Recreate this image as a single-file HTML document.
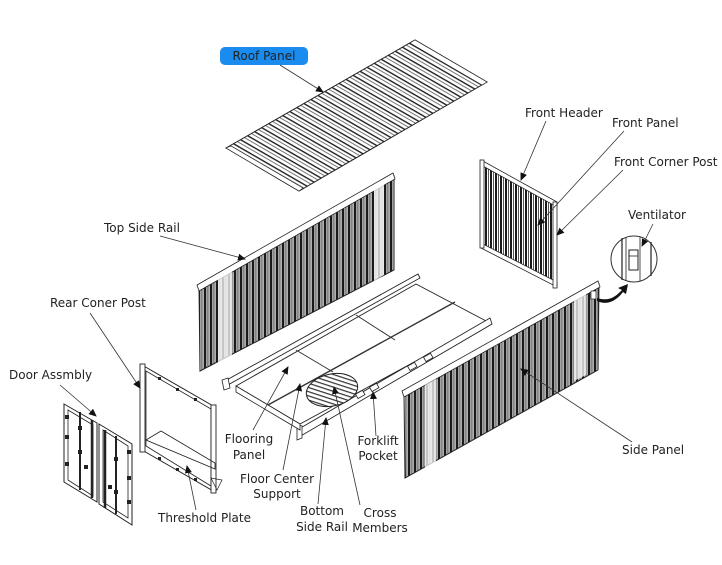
<!DOCTYPE html>
<html><head><meta charset="utf-8"><style>
html,body{margin:0;padding:0;background:#fff;}
svg{display:block;}
text{font-family:"DejaVu Sans","Liberation Sans",sans-serif;font-size:12px;fill:#222;}
</style></head><body>
<svg width="722" height="565" viewBox="0 0 722 565" xmlns="http://www.w3.org/2000/svg">
<defs>
<pattern id="rib" width="6" height="10" patternUnits="userSpaceOnUse">
<rect width="6" height="10" fill="#fff"/>
<rect x="0" width="2.4" height="10" fill="#1a1a1a"/>
<rect x="3.4" width="1.1" height="10" fill="#333"/>
<rect x="5.2" width="0.6" height="10" fill="#777"/>
</pattern>
<pattern id="rib2" width="5" height="10" patternUnits="userSpaceOnUse">
<rect width="5" height="10" fill="#fff"/>
<rect x="0" width="2" height="10" fill="#1a1a1a"/>
<rect x="3" width="0.9" height="10" fill="#444"/>
</pattern>
<pattern id="roofrib" width="10" height="7" patternUnits="userSpaceOnUse" patternTransform="rotate(30)">
<rect width="10" height="7" fill="#fff"/>
<rect y="0" width="10" height="1.4" fill="#222"/>
<rect y="3.5" width="10" height="0.8" fill="#555"/>
</pattern>
<pattern id="crossrib" width="10" height="4" patternUnits="userSpaceOnUse" patternTransform="rotate(30)">
<rect width="10" height="4" fill="#fff"/>
<rect width="10" height="1.2" fill="#333"/>
</pattern>
<marker id="ah" markerWidth="8" markerHeight="8" refX="7" refY="4" orient="auto" markerUnits="userSpaceOnUse">
<path d="M0,0.5 L8,4 L0,7.5 z" fill="#111"/>
</marker>
</defs>

<!-- Roof -->
<polygon points="226,148 299,191 487,82 415,40" fill="url(#roofrib)" stroke="#222" stroke-width="1"/>
<polygon points="226,148 299,191 303,188 231,146" fill="#fff" stroke="#222" stroke-width="0.6"/>
<polygon points="415,40 487,82 482,85 410,43" fill="#fff" stroke="#222" stroke-width="0.6"/>

<!-- Roof label -->
<rect x="220" y="47" width="88" height="18" rx="5" fill="#1a8cf0"/>
<text x="264" y="60" text-anchor="middle">Roof Panel</text>
<line x1="280" y1="65" x2="323" y2="92" stroke="#333" stroke-width="0.8" marker-end="url(#ah)"/>

<!-- Left side panel -->
<polygon points="199,287 394,176 394,270 200,371" fill="url(#rib)" stroke="#222" stroke-width="1"/>
<polygon points="197,285 393,173 395,179 199,291" fill="#fff" stroke="#222" stroke-width="0.8"/>
<polygon points="218,278 232,270 232,364 218,372" fill="#fff" opacity="0.75"/>
<polygon points="374,189 384,183 384,275 374,281" fill="#fff" opacity="0.75"/>

<!-- Front panel -->
<polygon points="482,162 556,204 556,285 482,246" fill="url(#rib2)" stroke="#222" stroke-width="1"/>
<polygon points="481,160 557,202 557,207 481,165" fill="#fff" stroke="#222" stroke-width="0.8"/>
<polygon points="481,243 557,282 557,287 481,248" fill="#fff" stroke="#222" stroke-width="0.8"/>
<rect x="480" y="160" width="4" height="88" fill="#fff" stroke="#222" stroke-width="0.8"/>
<rect x="553" y="202" width="4" height="86" fill="#fff" stroke="#222" stroke-width="0.8"/>

<!-- Floor -->
<polygon points="223,382 418,274 420,278 226,386" fill="#fff" stroke="#222" stroke-width="0.9"/>
<polygon points="222,380 224,390 230,388 228,378" fill="#fff" stroke="#222" stroke-width="0.8"/>
<polygon points="236,386 416,284 488,322 300,424" fill="#fff" stroke="#222" stroke-width="0.9"/>
<line x1="268" y1="405" x2="455" y2="302" stroke="#333" stroke-width="1.4"/>
<line x1="296" y1="350" x2="333" y2="372" stroke="#333" stroke-width="1"/>
<line x1="356" y1="315" x2="395" y2="340" stroke="#333" stroke-width="1"/>
<polygon points="297,430 490,318 492,324 299,437" fill="#fff" stroke="#222" stroke-width="0.9"/>
<polygon points="297,424 297,440 302,438 302,426" fill="#fff" stroke="#222" stroke-width="0.8"/>
<polygon points="236,386 300,424 300,430 236,392" fill="#fff" stroke="#222" stroke-width="0.8"/>
<ellipse cx="332" cy="390" rx="26" ry="16" transform="rotate(-12 332 390)" fill="url(#crossrib)" stroke="#222" stroke-width="1"/>
<rect x="356" y="392" width="8" height="5" fill="#fff" stroke="#222" stroke-width="0.8" transform="rotate(-30 360 394)"/>
<rect x="370" y="385" width="8" height="5" fill="#fff" stroke="#222" stroke-width="0.8" transform="rotate(-30 374 387)"/>
<rect x="408" y="364" width="8" height="5" fill="#fff" stroke="#222" stroke-width="0.8" transform="rotate(-30 412 366)"/>
<rect x="424" y="355" width="8" height="5" fill="#fff" stroke="#222" stroke-width="0.8" transform="rotate(-30 428 357)"/>

<!-- Right side panel -->
<polygon points="404,393 599,284 598,370 405,478" fill="url(#rib)" stroke="#222" stroke-width="1"/>
<polygon points="402,391 598,281 600,287 404,397" fill="#fff" stroke="#222" stroke-width="0.8"/>
<polygon points="425,385 436,379 436,471 425,477" fill="#fff" opacity="0.75"/>
<polygon points="574,297 586,291 586,375 574,381" fill="#fff" opacity="0.75"/>
<rect x="591" y="291" width="5" height="8" fill="#fff" stroke="#222" stroke-width="0.7"/>
<path d="M597,298 C610,302 616,296 622,290 L618,288 L628,284 L626,294 L623,292 C617,300 608,306 597,301 z" fill="#111"/>

<!-- Ventilator -->
<circle cx="634" cy="259" r="23" fill="#fff" stroke="#333" stroke-width="1"/>
<line x1="622" y1="238" x2="622" y2="280" stroke="#222" stroke-width="1.2"/>
<line x1="626" y1="237" x2="626" y2="281" stroke="#222" stroke-width="0.8"/>
<line x1="640" y1="237" x2="640" y2="281" stroke="#222" stroke-width="0.8"/>
<line x1="651" y1="242" x2="651" y2="276" stroke="#222" stroke-width="1.2"/>
<rect x="629" y="250" width="9" height="20" fill="#fff" stroke="#222" stroke-width="1"/>
<line x1="629" y1="256" x2="638" y2="256" stroke="#222" stroke-width="0.8"/>

<!-- Rear frame -->
<polygon points="142,365 215,407 215,492 142,450" fill="none" stroke="#222" stroke-width="1"/>
<polygon points="146,371 211,409 211,486 146,446" fill="none" stroke="#222" stroke-width="0.8"/>
<rect x="140" y="364" width="5" height="88" fill="#fff" stroke="#222" stroke-width="0.9"/>
<rect x="211" y="405" width="5" height="88" fill="#fff" stroke="#222" stroke-width="0.9"/>
<polygon points="146,440 161,431 215,463 215,469" fill="none" stroke="#222" stroke-width="0.8"/>
<polygon points="211,478 222,480 217,490" fill="none" stroke="#222" stroke-width="0.7"/>
<g fill="#222">
<rect x="158" y="377" width="3" height="3"/><rect x="176" y="388" width="3" height="3"/><rect x="194" y="398" width="3" height="3"/>
<rect x="158" y="457" width="3" height="3"/><rect x="176" y="468" width="3" height="3"/><rect x="194" y="478" width="3" height="3"/>
</g>

<!-- Doors -->
<polygon points="64,404 97,423 97,502 64,482" fill="#fff" stroke="#222" stroke-width="1"/>
<polygon points="99,424 132,444 132,525 99,504" fill="#fff" stroke="#222" stroke-width="1"/>
<polygon points="68,410 93,425 93,496 68,480" fill="none" stroke="#222" stroke-width="0.8"/>
<polygon points="103,430 128,446 128,518 103,502" fill="none" stroke="#222" stroke-width="0.8"/>
<line x1="80" y1="412" x2="80" y2="490" stroke="#222" stroke-width="2"/>
<line x1="92" y1="420" x2="92" y2="498" stroke="#222" stroke-width="2.5"/>
<line x1="105" y1="430" x2="105" y2="508" stroke="#222" stroke-width="2.5"/>
<line x1="116" y1="436" x2="116" y2="514" stroke="#222" stroke-width="2"/>
<g fill="#222">
<rect x="65" y="415" width="4" height="4"/><rect x="65" y="435" width="4" height="4"/><rect x="65" y="462" width="4" height="4"/>
<rect x="78" y="426" width="4" height="4"/><rect x="78" y="450" width="4" height="4"/><rect x="84" y="465" width="4" height="4"/>
<rect x="127" y="450" width="4" height="4"/><rect x="127" y="476" width="4" height="4"/><rect x="127" y="500" width="4" height="4"/>
<rect x="114" y="457" width="4" height="4"/><rect x="108" y="485" width="4" height="4"/><rect x="114" y="490" width="4" height="4"/>
</g>

<!-- Labels -->
<text x="525" y="117">Front Header</text>
<line x1="546" y1="121" x2="521" y2="180" stroke="#333" stroke-width="0.8" marker-end="url(#ah)"/>
<text x="612" y="127">Front Panel</text>
<line x1="624" y1="131" x2="538" y2="225" stroke="#333" stroke-width="0.8" marker-end="url(#ah)"/>
<text x="614" y="166">Front Corner Post</text>
<line x1="623" y1="170" x2="557" y2="235" stroke="#333" stroke-width="0.8" marker-end="url(#ah)"/>
<text x="628" y="219">Ventilator</text>
<line x1="653" y1="224" x2="642" y2="246" stroke="#333" stroke-width="0.8" marker-end="url(#ah)"/>
<text x="104" y="232">Top Side Rail</text>
<line x1="160" y1="236" x2="245" y2="259" stroke="#333" stroke-width="0.8" marker-end="url(#ah)"/>
<text x="50" y="307">Rear Coner Post</text>
<line x1="90" y1="313" x2="140" y2="388" stroke="#333" stroke-width="0.8" marker-end="url(#ah)"/>
<text x="9" y="379">Door Assmbly</text>
<line x1="60" y1="385" x2="96" y2="416" stroke="#333" stroke-width="0.8" marker-end="url(#ah)"/>
<text x="249" y="443" text-anchor="middle">Flooring</text>
<text x="249" y="459" text-anchor="middle">Panel</text>
<line x1="253" y1="430" x2="288" y2="367" stroke="#333" stroke-width="0.8" marker-end="url(#ah)"/>
<text x="277" y="483" text-anchor="middle">Floor Center</text>
<text x="277" y="498" text-anchor="middle">Support</text>
<line x1="283" y1="470" x2="300" y2="384" stroke="#333" stroke-width="0.8" marker-end="url(#ah)"/>
<text x="322" y="515" text-anchor="middle">Bottom</text>
<text x="322" y="531" text-anchor="middle">Side Rail</text>
<line x1="318" y1="504" x2="326" y2="418" stroke="#333" stroke-width="0.8" marker-end="url(#ah)"/>
<text x="380" y="517" text-anchor="middle">Cross</text>
<text x="380" y="532" text-anchor="middle">Members</text>
<line x1="360" y1="505" x2="334" y2="387" stroke="#333" stroke-width="0.8" marker-end="url(#ah)"/>
<text x="378" y="445" text-anchor="middle">Forklift</text>
<text x="378" y="460" text-anchor="middle">Pocket</text>
<line x1="376" y1="436" x2="373" y2="392" stroke="#333" stroke-width="0.8" marker-end="url(#ah)"/>
<text x="158" y="522">Threshold Plate</text>
<line x1="196" y1="510" x2="187" y2="466" stroke="#333" stroke-width="0.8" marker-end="url(#ah)"/>
<text x="622" y="454">Side Panel</text>
<line x1="632" y1="442" x2="521" y2="369" stroke="#333" stroke-width="0.8" marker-end="url(#ah)"/>
</svg>
</body></html>
